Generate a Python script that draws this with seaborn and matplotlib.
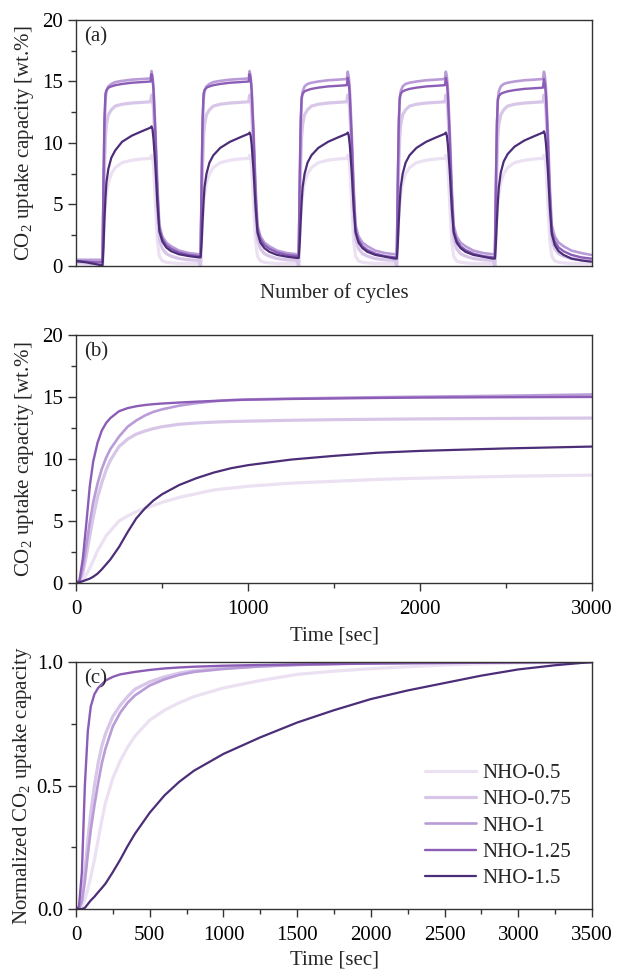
import numpy as np
import pandas as pd
import matplotlib
matplotlib.use("Agg")
import matplotlib.pyplot as plt
from matplotlib.ticker import MultipleLocator
import seaborn as sns

sns.set_style("ticks")
plt.rcParams['font.family'] = ['Liberation Serif', 'DejaVu Serif']
plt.rcParams['mathtext.fontset'] = 'custom'
plt.rcParams['mathtext.rm'] = 'Liberation Serif'
plt.rcParams['font.size'] = 15

samples = ['NHO-0.5', 'NHO-0.75', 'NHO-1', 'NHO-1.25', 'NHO-1.5']
colors = ['#ebe1f2', '#d8c6e9', '#b99bd8', '#8c5db6', '#4c2d78']
widths = [2.3, 2.3, 1.9, 1.7, 1.6]

# ---- panel (a): cycling, time in arbitrary units (one cycle = 100)
cycle_start = [27, 127, 227, 327, 427]
pre_t = [0, 10, 20, 26]
pre_vals = {
    'NHO-0.5': [0.2, 0.15, 0.1, 0.1],
    'NHO-0.75': [0.3, 0.25, 0.2, 0.2],
    'NHO-1': [0.5, 0.5, 0.5, 0.5],
    'NHO-1.25': [0.4, 0.35, 0.3, 0.3],
    'NHO-1.5': [0.4, 0.3, 0.15, 0.05],
}
cyc_ofs = [0, 1, 2, 3, 4, 6, 9, 13, 20, 30, 40, 49, 50, 51, 52, 54, 56, 58, 61, 65, 70, 78, 88, 98]
cyc_vals = {
    'NHO-0.5': [
        [0.0, 2.0, 3.8, 5.0, 5.8, 6.8, 7.5, 8.0, 8.4, 8.6, 8.7, 8.75, 9.0, 8.8, 8.2, 5.0, 2.0, 0.8, 0.4, 0.3, 0.25, 0.2, 0.2, 0.2],
        [0.0, 2.0, 3.8, 5.0, 5.8, 6.8, 7.5, 8.0, 8.4, 8.6, 8.7, 8.75, 9.0, 8.8, 8.2, 5.0, 2.0, 0.8, 0.4, 0.3, 0.25, 0.2, 0.2, 0.2],
        [0.0, 2.0, 3.8, 5.0, 5.8, 6.8, 7.5, 8.0, 8.4, 8.6, 8.7, 8.75, 9.0, 8.8, 8.2, 5.0, 2.0, 0.8, 0.4, 0.3, 0.25, 0.2, 0.2, 0.2],
        [0.0, 2.0, 3.8, 5.0, 5.8, 6.8, 7.5, 8.0, 8.4, 8.6, 8.7, 8.75, 9.0, 8.8, 8.2, 5.0, 2.0, 0.8, 0.4, 0.3, 0.25, 0.2, 0.2, 0.2],
        [0.0, 2.0, 3.8, 5.0, 5.8, 6.8, 7.5, 8.0, 8.4, 8.6, 8.7, 8.75, 9.0, 8.8, 8.2, 5.0, 2.0, 0.8, 0.4, 0.3, 0.25, 0.2, 0.2, 0.2],
    ],
    'NHO-0.75': [
        [0.0, 4.0, 8.0, 10.5, 11.5, 12.3, 12.7, 13.0, 13.15, 13.25, 13.3, 13.35, 13.9, 13.5, 12.8, 9.0, 4.5, 2.2, 1.4, 1.0, 0.8, 0.6, 0.5, 0.45],
        [0.0, 4.0, 8.0, 10.5, 11.5, 12.3, 12.7, 13.0, 13.15, 13.25, 13.3, 13.35, 13.9, 13.5, 12.8, 9.0, 4.5, 2.2, 1.4, 1.0, 0.8, 0.6, 0.5, 0.45],
        [0.0, 4.0, 8.0, 10.5, 11.5, 12.3, 12.7, 13.0, 13.15, 13.25, 13.3, 13.35, 13.9, 13.5, 12.8, 9.0, 4.5, 2.2, 1.4, 1.0, 0.8, 0.6, 0.5, 0.45],
        [0.0, 4.0, 8.0, 10.5, 11.5, 12.3, 12.7, 13.0, 13.15, 13.25, 13.3, 13.35, 13.9, 13.5, 12.8, 9.0, 4.5, 2.2, 1.4, 1.0, 0.8, 0.6, 0.5, 0.45],
        [0.0, 4.0, 8.0, 10.5, 11.5, 12.3, 12.7, 13.0, 13.15, 13.25, 13.3, 13.35, 13.9, 13.5, 12.8, 9.0, 4.5, 2.2, 1.4, 1.0, 0.8, 0.6, 0.5, 0.45],
    ],
    'NHO-1': [
        [0.5, 6.0, 11.0, 13.5, 14.2, 14.6, 14.8, 14.95, 15.05, 15.15, 15.2, 15.25, 15.85, 15.4, 14.5, 11.0, 6.5, 3.3, 2.4, 1.9, 1.6, 1.25, 1.05, 0.95],
        [0.95, 6.0, 11.0, 13.5, 14.2, 14.6, 14.8, 14.95, 15.05, 15.15, 15.2, 15.25, 15.85, 15.4, 14.5, 11.0, 6.5, 3.3, 2.4, 1.9, 1.6, 1.25, 1.05, 0.95],
        [0.95, 6.0, 11.0, 13.5, 14.2, 14.6, 14.8, 14.9, 15.0, 15.1, 15.15, 15.2, 15.8, 15.4, 14.5, 11.0, 6.5, 3.3, 2.4, 1.9, 1.6, 1.25, 1.05, 0.95],
        [0.95, 6.0, 11.0, 13.5, 14.2, 14.6, 14.8, 14.9, 15.0, 15.1, 15.15, 15.2, 15.8, 15.4, 14.5, 11.0, 6.5, 3.3, 2.4, 1.9, 1.6, 1.25, 1.05, 0.95],
        [0.95, 6.0, 11.0, 13.5, 14.2, 14.6, 14.8, 14.9, 15.0, 15.1, 15.15, 15.2, 15.8, 15.4, 14.5, 11.0, 6.5, 3.3, 2.4, 1.9, 1.6, 1.25, 1.05, 0.9],
    ],
    'NHO-1.25': [
        [0.3, 7.0, 12.0, 14.0, 14.3, 14.5, 14.6, 14.7, 14.8, 14.9, 14.95, 15.0, 15.6, 15.2, 14.3, 10.5, 6.0, 3.0, 2.2, 1.7, 1.4, 1.1, 0.9, 0.8],
        [0.8, 7.0, 12.0, 14.0, 14.3, 14.5, 14.6, 14.7, 14.8, 14.9, 14.95, 15.0, 15.6, 15.2, 14.3, 10.5, 6.0, 3.0, 2.2, 1.7, 1.4, 1.1, 0.9, 0.8],
        [0.8, 7.0, 11.8, 13.7, 14.0, 14.2, 14.3, 14.4, 14.5, 14.6, 14.65, 14.7, 15.3, 14.9, 14.0, 10.3, 5.9, 2.9, 2.1, 1.6, 1.3, 1.0, 0.8, 0.7],
        [0.7, 7.0, 11.8, 13.7, 14.0, 14.2, 14.3, 14.4, 14.5, 14.6, 14.65, 14.7, 15.3, 14.9, 14.0, 10.3, 5.9, 2.9, 2.1, 1.6, 1.3, 1.0, 0.8, 0.7],
        [0.7, 6.8, 11.6, 13.5, 13.8, 14.0, 14.1, 14.2, 14.3, 14.4, 14.45, 14.5, 15.2, 14.8, 13.9, 10.2, 5.8, 2.8, 2.0, 1.5, 1.2, 0.9, 0.7, 0.6],
    ],
    'NHO-1.5': [
        [0.05, 1.5, 3.8, 5.5, 6.8, 7.9, 8.8, 9.4, 10.1, 10.6, 10.95, 11.25, 11.35, 11.1, 10.3, 8.0, 5.0, 2.8, 2.0, 1.5, 1.2, 0.95, 0.8, 0.7],
        [0.7, 1.8, 3.6, 5.2, 6.4, 7.5, 8.4, 9.0, 9.6, 10.1, 10.45, 10.75, 10.85, 10.6, 9.9, 7.7, 4.8, 2.7, 1.9, 1.45, 1.15, 0.9, 0.75, 0.65],
        [0.65, 1.8, 3.6, 5.2, 6.4, 7.5, 8.4, 9.0, 9.6, 10.1, 10.45, 10.75, 10.85, 10.6, 9.9, 7.7, 4.8, 2.7, 1.9, 1.45, 1.15, 0.9, 0.75, 0.6],
        [0.6, 1.8, 3.6, 5.2, 6.4, 7.5, 8.4, 9.0, 9.6, 10.1, 10.45, 10.75, 10.85, 10.6, 9.9, 7.7, 4.8, 2.7, 1.9, 1.45, 1.15, 0.9, 0.75, 0.6],
        [0.6, 1.8, 3.6, 5.2, 6.4, 7.6, 8.5, 9.1, 9.7, 10.2, 10.55, 10.85, 10.95, 10.7, 10.0, 7.8, 4.8, 2.6, 1.7, 1.2, 0.9, 0.6, 0.45, 0.35],
    ],
}

# ---- panel (b): uptake vs time [sec]
t_b = [0, 20, 40, 60, 80, 100, 125, 150, 175, 200, 250, 300, 350, 400, 450, 500,
       600, 700, 800, 900, 1000, 1250, 1500, 1750, 2000, 2500, 3000]
uptake_b = {
    'NHO-0.5': [0, 0.0, 0.2, 0.7, 1.2, 1.8, 2.6, 3.2, 3.8, 4.2, 5.0, 5.4, 5.75, 6.0, 6.25, 6.5,
                6.9, 7.2, 7.5, 7.65, 7.8, 8.05, 8.2, 8.35, 8.45, 8.6, 8.7],
    'NHO-0.75': [0, 0.1, 0.8, 2.2, 3.8, 5.3, 6.9, 8.1, 9.1, 9.9, 11.0, 11.6, 12.0, 12.25, 12.45, 12.6,
                 12.8, 12.9, 12.97, 13.02, 13.05, 13.12, 13.17, 13.2, 13.23, 13.27, 13.3],
    'NHO-1': [0, 0.1, 1.2, 3.0, 4.9, 6.5, 8.0, 9.2, 10.1, 10.8, 11.8, 12.6, 13.1, 13.5, 13.8, 14.0,
              14.3, 14.5, 14.65, 14.75, 14.8, 14.87, 14.93, 14.98, 15.02, 15.1, 15.2],
    'NHO-1.25': [0, 0.2, 2.0, 4.8, 7.8, 9.8, 11.3, 12.3, 12.9, 13.3, 13.85, 14.1, 14.25, 14.35, 14.42, 14.47,
                 14.55, 14.62, 14.68, 14.74, 14.78, 14.84, 14.88, 14.92, 14.95, 14.98, 15.0],
    'NHO-1.5': [0, 0.05, 0.15, 0.25, 0.35, 0.5, 0.75, 1.1, 1.5, 1.9, 2.9, 4.1, 5.2, 6.0, 6.65, 7.15,
                7.9, 8.45, 8.9, 9.25, 9.5, 9.95, 10.25, 10.5, 10.65, 10.85, 11.0],
}

# ---- panel (c): normalized uptake vs time [sec]
t_c = [0, 20, 40, 60, 80, 100, 125, 150, 175, 200, 250, 300, 350, 400, 500, 600, 700, 800,
       1000, 1250, 1500, 1750, 2000, 2250, 2500, 2750, 3000, 3250, 3500]
norm_c = {
    'NHO-0.5': [0, 0.0, 0.01, 0.04, 0.08, 0.13, 0.2, 0.28, 0.36, 0.43, 0.53, 0.6, 0.655, 0.7, 0.765, 0.805, 0.835, 0.86,
                0.895, 0.925, 0.95, 0.963, 0.973, 0.981, 0.988, 0.993, 0.996, 0.998, 1.0],
    'NHO-0.75': [0, 0.0, 0.05, 0.15, 0.28, 0.39, 0.5, 0.59, 0.66, 0.71, 0.78, 0.825, 0.86, 0.89, 0.92, 0.94, 0.955, 0.965,
                 0.975, 0.984, 0.99, 0.993, 0.995, 0.997, 0.998, 0.999, 1.0, 1.0, 1.0],
    'NHO-1': [0, 0.0, 0.03, 0.11, 0.22, 0.32, 0.42, 0.51, 0.59, 0.65, 0.74, 0.795, 0.835, 0.865, 0.905, 0.93, 0.948, 0.96,
              0.972, 0.982, 0.988, 0.992, 0.995, 0.997, 0.998, 0.999, 1.0, 1.0, 1.0],
    'NHO-1.25': [0, 0.01, 0.15, 0.5, 0.72, 0.82, 0.87, 0.895, 0.91, 0.925, 0.94, 0.95, 0.955, 0.96, 0.968, 0.974, 0.978, 0.981,
                 0.985, 0.988, 0.99, 0.992, 0.994, 0.995, 0.996, 0.997, 0.998, 0.999, 1.0],
    'NHO-1.5': [0, 0.0, 0.0, 0.005, 0.02, 0.035, 0.05, 0.068, 0.085, 0.103, 0.15, 0.2, 0.255, 0.305, 0.39, 0.46, 0.515, 0.56,
                0.628, 0.695, 0.755, 0.805, 0.85, 0.885, 0.915, 0.945, 0.97, 0.987, 1.0],
}

rows = []
for s in samples:
    for t, v in zip(pre_t, pre_vals[s]):
        rows.append((s, t, v))
    for k, start in enumerate(cycle_start):
        for o, v in zip(cyc_ofs, cyc_vals[s][k]):
            rows.append((s, start + o, v))
df_a = pd.DataFrame(rows, columns=['sample', 't', 'v'])

df_b = pd.DataFrame([(s, t, v) for s in samples for t, v in zip(t_b, uptake_b[s])],
                    columns=['sample', 't', 'v'])
df_c = pd.DataFrame([(s, t, v) for s in samples for t, v in zip(t_c, norm_c[s])],
                    columns=['sample', 't', 'v'])

fig = plt.figure(figsize=(6.17, 9.76), dpi=100)
ax_a = fig.add_axes([0.1232, 0.7275, 0.8363, 0.2520])
ax_b = fig.add_axes([0.1232, 0.4027, 0.8363, 0.2541])
ax_c = fig.add_axes([0.1232, 0.0686, 0.8363, 0.2531])


def draw(ax, df):
    for s, c, w in zip(samples, colors, widths):
        sns.lineplot(data=df[df['sample'] == s], x='t', y='v', color=c, lw=w,
                     ax=ax, label=s, sort=False, estimator=None)


draw(ax_a, df_a)
draw(ax_b, df_b)
draw(ax_c, df_c)

ylab = 'CO$_2$ uptake capacity [wt.%]'
for ax in (ax_a, ax_b, ax_c):
    for sp in ax.spines.values():
        sp.set_color('#333333')
        sp.set_linewidth(1.0)
    ax.tick_params(which='major', direction='out', length=6, width=1, colors='#333333',
                   labelcolor='black', labelsize=15)
    ax.tick_params(which='minor', direction='out', length=3.5, width=1, colors='#333333')
    ax.tick_params(axis='x', which='major', pad=6)

ax_a.set_xlim(0, 526)
ax_a.set_ylim(0, 20)
ax_a.set_xticks([])
ax_a.yaxis.set_major_locator(MultipleLocator(5))
ax_a.yaxis.set_minor_locator(MultipleLocator(2.5))
ax_a.set_xlabel('Number of cycles', labelpad=12)
ax_a.set_ylabel(ylab, labelpad=4)
ax_a.legend_.remove()
ax_a.text(0.015, 0.97, '(a)', transform=ax_a.transAxes, va='top', ha='left')

ax_b.set_xlim(0, 3000)
ax_b.set_ylim(0, 20)
ax_b.xaxis.set_major_locator(MultipleLocator(1000))
ax_b.xaxis.set_minor_locator(MultipleLocator(500))
ax_b.yaxis.set_major_locator(MultipleLocator(5))
ax_b.yaxis.set_minor_locator(MultipleLocator(2.5))
ax_b.set_xlabel('Time [sec]', labelpad=6)
ax_b.set_ylabel(ylab, labelpad=4)
ax_b.legend_.remove()
ax_b.text(0.015, 0.97, '(b)', transform=ax_b.transAxes, va='top', ha='left')

ax_c.set_xlim(0, 3500)
ax_c.set_ylim(0, 1.0)
ax_c.xaxis.set_major_locator(MultipleLocator(500))
ax_c.xaxis.set_minor_locator(MultipleLocator(250))
ax_c.yaxis.set_major_locator(MultipleLocator(0.5))
ax_c.yaxis.set_minor_locator(MultipleLocator(0.25))
ax_c.set_xlabel('Time [sec]', labelpad=4)
ax_c.set_ylabel('Normalized CO$_2$ uptake capacity', labelpad=2)
ax_c.text(0.015, 0.97, '(c)', transform=ax_c.transAxes, va='top', ha='left')
ax_c.legend(loc='lower right', frameon=False, fontsize=15, handlelength=2.45,
            handletextpad=0.3, labelspacing=0.32, borderaxespad=0.6,
            bbox_to_anchor=(1.0, 0.0))

fig.savefig('out.png', dpi=100)
